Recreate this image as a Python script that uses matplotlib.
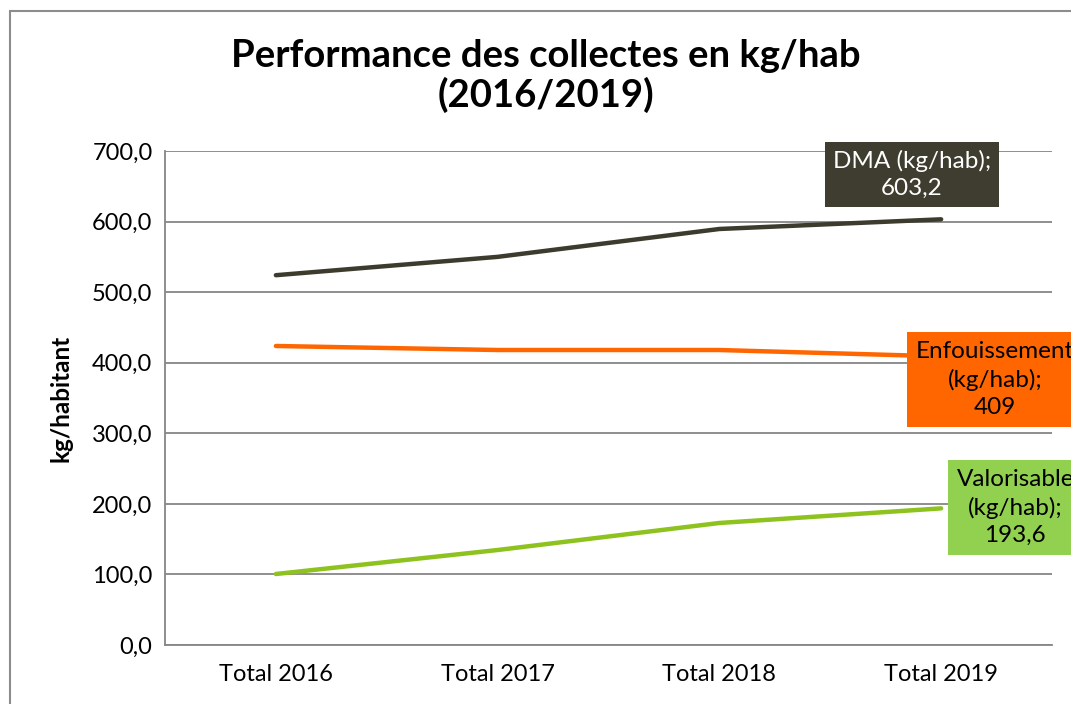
import matplotlib.pyplot as plt
from matplotlib.patches import Rectangle

plt.rcParams['font.family'] = ['Lato', 'DejaVu Sans']

years = ["Total 2016", "Total 2017", "Total 2018", "Total 2019"]
dma = [524.0, 550.0, 589.5, 603.2]
enfouissement = [423.7, 418.0, 418.0, 409.0]
valorisable = [100.6, 134.6, 172.9, 193.6]
yticks = [0, 100, 200, 300, 400, 500, 600, 700]

W, H = 1071, 704
fig = plt.figure(figsize=(W / 100, H / 100), dpi=100)
ax = fig.add_axes([165 / W, 1 - 645 / H, 887 / W, 494 / H])

# outer chart frame (cut by the image edge on right/bottom)
fig.patches.append(Rectangle((10 / W, -0.1), 1.2, (H - 11) / H + 0.1,
                             transform=fig.transFigure, fill=False,
                             edgecolor='#8c8c8c', lw=1.5))

x = list(range(len(years)))
ax.plot(x, dma, color='#3d3b2e', lw=3.2, solid_capstyle='round')
ax.plot(x, enfouissement, color='#ff6600', lw=3.2, solid_capstyle='round')
ax.plot(x, valorisable, color='#8dc21f', lw=3.2, solid_capstyle='round')

ax.set_xlim(-0.5, 3.5)
ax.set_ylim(0, 700)
ax.set_yticks(yticks)
ax.set_yticklabels([f"{v:.1f}".replace('.', ',') for v in yticks], fontsize=17)
ax.set_xticks(x)
ax.set_xticklabels(years, fontsize=17)
ax.tick_params(length=0, pad=9)
ax.tick_params(axis='x', pad=14)
ax.grid(axis='y', color='#868686', lw=1.3)
ax.set_axisbelow(True)
for s in ['top', 'right']:
    ax.spines[s].set_visible(False)
for s in ['left', 'bottom']:
    ax.spines[s].set_color('#868686')
    ax.spines[s].set_linewidth(1.3)
ax.set_ylabel("kg/habitant", fontsize=17.5, fontweight='bold')
ax.yaxis.set_label_coords(-93 / 887, 0.5)

fig.text(546 / W, 1 - 76 / H, "Performance des collectes en kg/hab\n(2016/2019)",
         ha='center', va='center', fontsize=27.5, fontweight='bold', linespacing=1.12)

def fmt(v):
    return f"{v:g}".replace('.', ',')

# data labels
ax.text(2.869, 667, f"DMA (kg/hab);\n{fmt(dma[-1])}", ha='center', va='center',
        fontsize=17.5, color='white', clip_on=False, linespacing=1.35,
        bbox=dict(boxstyle='square,pad=0.33', fc='#3f3d2f', ec='none'))
ax.text(3.244, 376, f"Enfouissement\n(kg/hab);\n{fmt(enfouissement[-1])}", ha='center', va='center',
        fontsize=17.5, color='black', clip_on=False, linespacing=1.38,
        bbox=dict(boxstyle='square,pad=0.36', fc='#ff6600', ec='none'))
ax.text(3.334, 195, f"Valorisable\n(kg/hab);\n{fmt(valorisable[-1])}", ha='center', va='center',
        fontsize=17.5, color='black', clip_on=False, linespacing=1.38,
        bbox=dict(boxstyle='square,pad=0.36', fc='#92d050', ec='none'))

fig.savefig("out.png", dpi=100)
